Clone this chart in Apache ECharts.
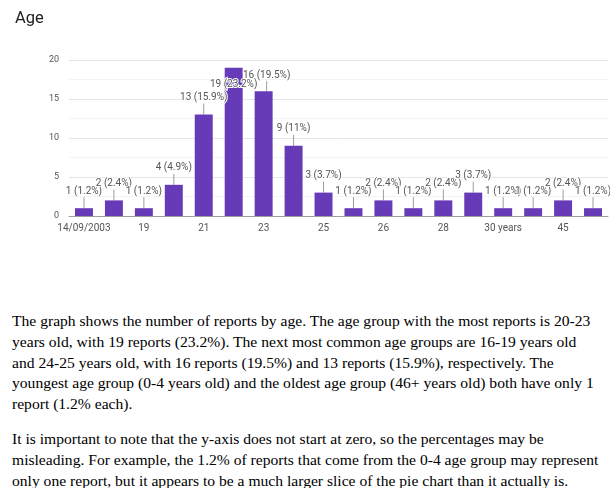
<!DOCTYPE html>
<html>
<head>
<meta charset="utf-8">
<script src="https://cdn.jsdelivr.net/npm/echarts@6/dist/echarts.min.js"></script>
<style>
html,body{margin:0;padding:0;background:#fff;width:610px;height:488px;overflow:hidden;}
#chart{position:absolute;left:0;top:0;width:610px;height:247px;}
#text{position:absolute;left:12px;top:311px;font-family:"Liberation Serif","Times New Roman",serif;font-size:15.6px;line-height:20.8px;color:#000;white-space:nowrap;}
#text p{margin:0;}
#text p+p{margin-top:14px;}
</style>
</head>
<body>
<div id="chart"></div>
<div id="text">
<p>The graph shows the number of reports by age. The age group with the most reports is 20-23<br>years old, with 19 reports (23.2%). The next most common age groups are 16-19 years old<br>and 24-25 years old, with 16 reports (19.5%) and 13 reports (15.9%), respectively. The<br>youngest age group (0-4 years old) and the oldest age group (46+ years old) both have only 1<br>report (1.2% each).</p>
<p>It is important to note that the y-axis does not start at zero, so the percentages may be<br>misleading. For example, the 1.2% of reports that come from the 0-4 age group may represent<br>only one report, but it appears to be a much larger slice of the pie chart than it actually is.</p>
</div>
<script>
var categories = ['14/09/2003','18','19','20','21','22','23','24','25','25 years','26','27','28','29','30 years','40','45','50'];
var counts = [1,2,1,4,13,19,16,9,3,1,2,1,2,3,1,1,2,1];
var percents = ['1.2%','2.4%','1.2%','4.9%','15.9%','23.2%','19.5%','11%','3.7%','1.2%','2.4%','1.2%','2.4%','3.7%','1.2%','1.2%','2.4%','1.2%'];
var yTicks = [0,5,10,15,20];

var chart = echarts.init(document.getElementById('chart'));
chart.setOption({
  animation:false,
  title:{text:'Age',left:10,top:5,textStyle:{fontFamily:'Roboto',fontSize:16.5,fontWeight:'normal',color:'#202124'}},
  grid:{left:69,right:2,top:60,bottom:31},
  xAxis:{
    type:'category',data:categories,
    axisTick:{show:false},
    axisLine:{lineStyle:{color:'#9e9e9e'}},
    axisLabel:{interval:1,color:'#555',fontFamily:'Roboto',fontSize:10,margin:7}
  },
  yAxis:{
    type:'value',min:yTicks[0],max:yTicks[yTicks.length-1],interval:5,
    axisLabel:{color:'#555',fontFamily:'Roboto',fontSize:9,margin:10},
    splitLine:{lineStyle:{color:'#e6e6e6'}},
    minorTick:{show:false,splitNumber:2},
    minorSplitLine:{show:true,lineStyle:{color:'#f4f4f4'}}
  },
  series:[{
    type:'bar',data:counts,barWidth:'60%',
    itemStyle:{color:'#673ab7'},
    label:{show:true,position:'top',distance:0,
      formatter:function(p){return counts[p.dataIndex]+' ('+percents[p.dataIndex]+')';},
      color:'#555',fontFamily:'Roboto',fontSize:10,
      textBorderColor:'#fff',textBorderWidth:2},
    labelLine:{show:true,lineStyle:{color:'#9e9e9e',width:1}},
    labelLayout:function(p){
      if (p.dataIndex===5) return {dy:22};
      if (p.dataIndex===6) return {dy:-11,dx:3};
      return {dy:-12};
    }
  }]
});
</script>
</body>
</html>
